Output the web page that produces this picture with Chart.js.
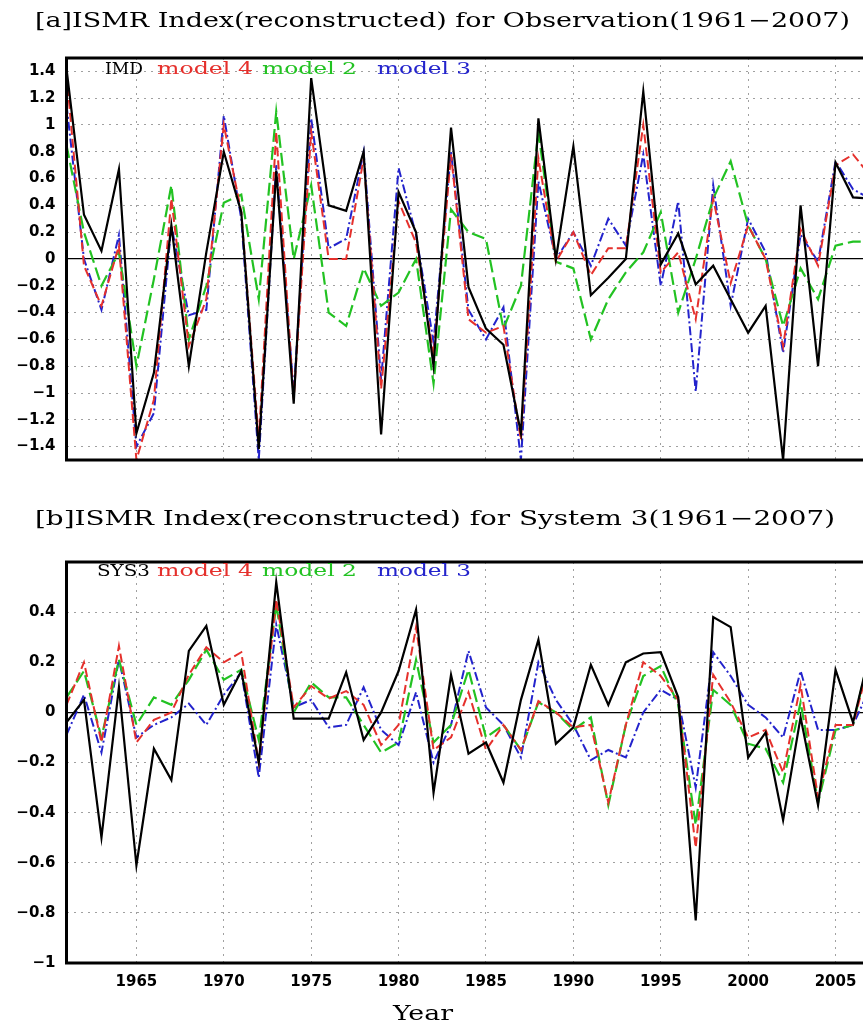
<!DOCTYPE html>
<html><head><meta charset="utf-8">
<script src="https://cdn.jsdelivr.net/npm/chart.js@4.4.1/dist/chart.umd.min.js"></script>
<style>
html,body{margin:0;padding:0;background:#fff;overflow:hidden;width:863px;height:1023px;}
#c1{position:absolute;left:0;top:0;}
#c2{position:absolute;left:0;top:490px;}
</style></head><body>
<canvas id="c1" width="880" height="490"></canvas>
<canvas id="c2" width="880" height="533"></canvas>
<script>
// ---------- data ----------
const years = [1961,1962,1963,1964,1965,1966,1967,1968,1969,1970,1971,1972,1973,1974,1975,1976,1977,1978,1979,1980,
  1981,1982,1983,1984,1985,1986,1987,1988,1989,1990,1991,1992,1993,1994,1995,1996,1997,1998,1999,2000,
  2001,2002,2003,2004,2005,2006,2007];
const xTickYears = [1965,1970,1975,1980,1985,1990,1995,2000,2005];
const yTicksA = [-1.4,-1.2,-1,-0.8,-0.6,-0.4,-0.2,0,0.2,0.4,0.6,0.8,1,1.2,1.4];
const yTicksB = [-1,-0.8,-0.6,-0.4,-0.2,0,0.2,0.4];

// panel a : observation
const imdObs = [1.42,0.33,0.06,0.67,-1.3,-0.85,0.25,-0.8,0.05,0.8,
  0.35,-1.42,0.66,-1.08,1.35,0.4,0.36,0.8,-1.31,0.5,
  0.2,-0.8,0.98,-0.21,-0.52,-0.64,-1.3,1.05,0.0,0.84,
  -0.27,-0.14,0.0,1.25,-0.04,0.19,-0.19,-0.05,-0.3,-0.55,
  -0.35,-1.5,0.4,-0.8,0.72,0.46,0.45];
const model4Obs = [1.38,-0.05,-0.35,0.1,-1.5,-1.05,0.45,-0.65,-0.3,1.0,
  0.35,-1.35,0.95,-1.05,0.95,0.0,0.0,0.75,-0.97,0.43,
  0.12,-0.72,0.78,-0.45,-0.55,-0.5,-1.35,0.75,-0.02,0.2,
  -0.12,0.08,0.08,1.0,-0.1,0.05,-0.45,0.45,-0.18,0.25,
  0.0,-0.65,0.22,-0.05,0.7,0.78,0.62];
const model2Obs = [0.85,0.2,-0.2,0.05,-0.8,-0.15,0.55,-0.6,-0.2,0.42,
  0.48,-0.3,1.1,0.0,0.55,-0.4,-0.5,-0.07,-0.35,-0.25,
  0.0,-0.93,0.37,0.2,0.15,-0.52,-0.2,0.95,-0.02,-0.07,
  -0.6,-0.3,-0.1,0.05,0.35,-0.4,0.0,0.45,0.73,0.25,
  0.0,-0.5,-0.07,-0.3,0.1,0.13,0.13];
const model3Obs = [1.15,0.0,-0.38,0.18,-1.4,-1.15,0.25,-0.42,-0.38,1.07,
  0.3,-1.5,0.7,-1.0,1.05,0.08,0.15,0.8,-0.9,0.68,
  0.18,-0.62,0.8,-0.38,-0.6,-0.36,-1.5,0.58,0.0,0.2,
  -0.05,0.3,0.1,0.78,-0.2,0.43,-0.99,0.55,-0.35,0.3,
  0.05,-0.7,0.18,-0.02,0.73,0.52,0.45];

// panel b : System 3
const sys3 = [-0.04,0.05,-0.5,0.1,-0.61,-0.145,-0.27,0.245,0.345,0.03,
  0.165,-0.2,0.52,-0.025,-0.025,-0.025,0.16,-0.11,0.0,0.165,
  0.41,-0.32,0.15,-0.165,-0.12,-0.28,0.05,0.29,-0.125,-0.06,
  0.19,0.03,0.2,0.235,0.24,0.06,-0.83,0.38,0.34,-0.18,
  -0.08,-0.43,-0.02,-0.37,0.17,-0.04,0.25];
const model4Sys = [0.03,0.2,-0.12,0.265,-0.12,-0.03,0.0,0.15,0.26,0.2,
  0.24,-0.2,0.45,0.02,0.105,0.055,0.085,0.03,-0.13,-0.05,
  0.34,-0.15,-0.1,0.08,-0.15,-0.05,-0.15,0.045,0.0,-0.06,
  -0.05,-0.36,-0.05,0.2,0.145,0.05,-0.54,0.15,0.04,-0.1,
  -0.07,-0.24,0.11,-0.34,-0.05,-0.05,0.22];
const model2Sys = [0.06,0.165,-0.1,0.21,-0.05,0.06,0.03,0.13,0.25,0.13,
  0.17,-0.11,0.43,0.0,0.12,0.06,0.06,-0.05,-0.16,-0.12,
  0.21,-0.12,-0.05,0.17,-0.1,-0.05,-0.15,0.04,0.0,-0.07,
  -0.02,-0.37,-0.05,0.145,0.185,0.03,-0.45,0.09,0.03,-0.125,
  -0.145,-0.28,0.04,-0.36,-0.07,-0.05,0.25];
const model3Sys = [-0.09,0.07,-0.16,0.21,-0.1,-0.05,-0.02,0.035,-0.05,0.07,
  0.16,-0.26,0.35,0.02,0.05,-0.06,-0.05,0.1,-0.07,-0.13,
  0.08,-0.2,-0.05,0.245,0.02,-0.05,-0.18,0.2,0.05,-0.05,
  -0.19,-0.15,-0.18,0.0,0.09,0.05,-0.3,0.24,0.145,0.03,
  -0.02,-0.1,0.165,-0.07,-0.07,-0.05,0.1];

// ---------- helpers ----------
const RED = '#e5302c', GREEN = '#22c222', BLUE = '#2323cc';
const pts = arr => years.map((y, i) => ({x: y, y: arr[i]}));
function datasets(main, mainLabel, a4, a2, a3) {
  const base = {pointRadius: 0, tension: 0, fill: false};
  return [
    Object.assign({label: mainLabel, data: pts(main), borderColor: '#000', borderWidth: 2.2}, base),
    Object.assign({label: 'model 4', data: pts(a4), borderColor: RED, borderWidth: 2, borderDash: [9, 4]}, base),
    Object.assign({label: 'model 2', data: pts(a2), borderColor: GREEN, borderWidth: 2.2, borderDash: [13, 5]}, base),
    Object.assign({label: 'model 3', data: pts(a3), borderColor: BLUE, borderWidth: 2, borderDash: [9, 3, 2, 3]}, base)
  ];
}
function fmt(v) {
  const r = Math.round(v * 10) / 10;
  const s = String(Math.abs(r));
  return (r < 0 ? '\u2212' : '') + s;
}
function fitText(ctx, txt, x, yMid, w, font, color) {
  ctx.save();
  ctx.font = font; ctx.fillStyle = color; ctx.textBaseline = 'middle'; ctx.textAlign = 'left';
  const m = ctx.measureText(txt).width;
  ctx.translate(x, yMid); ctx.scale(w / m, 1); ctx.fillText(txt, 0, 0);
  ctx.restore();
}
const TFONT = '20px "DejaVu Serif"';
const LFONT = '17px "DejaVu Serif"';

function decorPlugin(opts) {
  return {
    id: 'decor' + opts.id,
    afterDatasetsDraw(chart) {
      const ctx = chart.ctx, a = chart.chartArea;
      ctx.save();
      ctx.strokeStyle = '#000'; ctx.lineWidth = 3;
      ctx.strokeRect(a.left, a.top, a.right - a.left, a.bottom - a.top);
      ctx.restore();
      opts.legend.forEach(l => fitText(ctx, l.t, l.x, opts.legendY, l.w, LFONT, l.c));
      fitText(ctx, opts.title, opts.titleX, opts.titleY, opts.titleW, TFONT, '#000');
      if (opts.xlabel) fitText(ctx, opts.xlabel.t, opts.xlabel.x, opts.xlabel.y, opts.xlabel.w, '20px "DejaVu Serif"', '#000');
    }
  };
}

function makeOptions(yMin, yMax, yTicks, showX, xHeight) {
  return {
    responsive: false, animation: false,
    layout: {padding: {left: 0, right: 9.5, top: 0, bottom: 0}},
    plugins: {legend: {display: false}, tooltip: {enabled: false}, title: {display: false}},
    scales: {
      x: {
        type: 'linear', min: 1961, max: 2007,
        afterBuildTicks: s => { s.ticks = xTickYears.map(v => ({value: v})); },
        afterFit: s => { s.height = xHeight; },
        ticks: {display: showX, color: '#000', padding: 10, autoSkip: false, maxRotation: 0,
          font: {family: 'DejaVu Sans', weight: 'bold', size: 15},
          callback: v => String(v)},
        grid: {color: '#a0a0a0', lineWidth: 1, drawTicks: false},
        border: {display: false, dash: [2, 5]}
      },
      y: {
        min: yMin, max: yMax,
        afterBuildTicks: s => { s.ticks = yTicks.map(v => ({value: v})); },
        afterFit: s => { s.width = 66.5; },
        ticks: {color: '#000', padding: 11,
          font: {family: 'DejaVu Sans', weight: 'bold', size: 15},
          callback: v => fmt(v)},
        grid: {drawTicks: false,
          color: c => (c.tick && Math.abs(c.tick.value) < 1e-9) ? '#000' : '#a0a0a0',
          lineWidth: c => (c.tick && Math.abs(c.tick.value) < 1e-9) ? 1.3 : 1},
        border: {display: false,
          dash: c => (c.tick && Math.abs(c.tick.value) < 1e-9) ? [] : [2, 5]}
      }
    }
  };
}

// ---------- panel a ----------
const optA = makeOptions(-1.5, 1.5, yTicksA, false, 0);
optA.layout.padding.top = 58; optA.layout.padding.bottom = 30;
new Chart(document.getElementById('c1'), {
  type: 'line',
  data: {datasets: datasets(imdObs, 'IMD', model4Obs, model2Obs, model3Obs)},
  options: optA,
  plugins: [decorPlugin({
    id: 'a',
    title: '[a]ISMR Index(reconstructed) for Observation(1961\u22122007)',
    titleX: 35, titleY: 22, titleW: 815,
    legendY: 70,
    legend: [
      {t: 'IMD', x: 105, w: 38, c: '#000'},
      {t: 'model 4', x: 157, w: 96, c: RED},
      {t: 'model 2', x: 262, w: 95, c: GREEN},
      {t: 'model 3', x: 377, w: 94, c: BLUE}
    ]
  })]
});

// ---------- panel b ----------
const optB = makeOptions(-1, 0.6, yTicksB, true, 40);
optB.layout.padding.top = 72; optB.layout.padding.bottom = 20;
new Chart(document.getElementById('c2'), {
  type: 'line',
  data: {datasets: datasets(sys3, 'SYS3', model4Sys, model2Sys, model3Sys)},
  options: optB,
  plugins: [decorPlugin({
    id: 'b',
    title: '[b]ISMR Index(reconstructed) for System 3(1961\u22122007)',
    titleX: 35, titleY: 30, titleW: 800,
    legendY: 82,
    legend: [
      {t: 'SYS3', x: 97, w: 53, c: '#000'},
      {t: 'model 4', x: 157, w: 96, c: RED},
      {t: 'model 2', x: 262, w: 95, c: GREEN},
      {t: 'model 3', x: 377, w: 94, c: BLUE}
    ],
    xlabel: {t: 'Year', x: 393, y: 525, w: 60}
  })]
});
</script>
</body></html>
